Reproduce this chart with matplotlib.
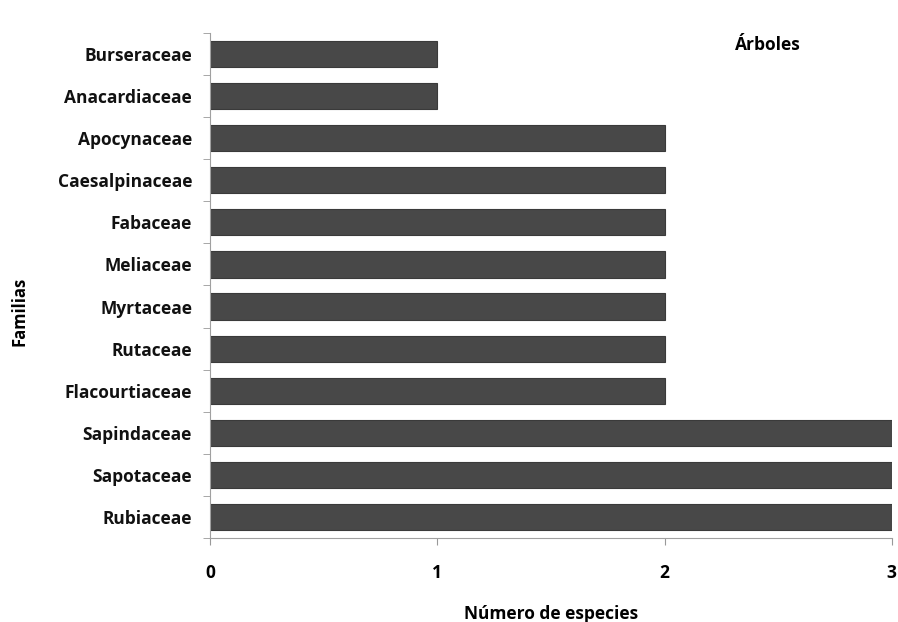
import matplotlib.pyplot as plt
import numpy as np

familias = ["Rubiaceae", "Sapotaceae", "Sapindaceae", "Flacourtiaceae", "Rutaceae",
            "Myrtaceae", "Meliaceae", "Fabaceae", "Caesalpinaceae", "Apocynaceae",
            "Anacardiaceae", "Burseraceae"]
especies = [3, 3, 3, 2, 2, 2, 2, 2, 2, 2, 1, 1]
x_ticks = [0, 1, 2, 3]

plt.rcParams["font.family"] = ["Open Sans", "DejaVu Sans"]
plt.rcParams["font.weight"] = "bold"

fig = plt.figure(figsize=(8.98, 6.22), dpi=100)
ax = fig.add_axes([0.234, 0.135, 0.759, 0.812])

y = np.arange(len(familias))
ax.barh(y, especies, height=0.62, color="#484848", edgecolor="#3a3a3a", linewidth=0.8)

ax.set_xlim(0, 3)
ax.set_ylim(-0.5, len(familias) - 0.5)
ax.set_xticks(x_ticks)
ax.set_xticklabels([str(v) for v in x_ticks], fontsize=12.5, fontweight="bold")
ax.set_yticks(y)
ax.set_yticklabels(familias, fontsize=12.5, fontweight="bold", color="#111111")
ax.set_yticks(np.arange(-0.5, len(familias), 1.0), minor=True)
ax.tick_params(axis="y", which="major", length=0, pad=13)
ax.tick_params(axis="y", which="minor", length=5, color="#999999", direction="out")
ax.tick_params(axis="x", length=5, color="#999999", pad=14)

for side in ["top", "right"]:
    ax.spines[side].set_visible(False)
for side in ["left", "bottom"]:
    ax.spines[side].set_color("#a0a0a0")

ax.set_xlabel("Número de especies", fontsize=12.5, fontweight="bold", labelpad=16)
fig.text(0.022, 0.5, "Familias", rotation=90, va="center", ha="center",
         fontsize=12, fontweight="bold")
ax.text(2.31, 11.22, "Árboles", fontsize=12.5, fontweight="bold", va="center")

fig.savefig("out.png", dpi=100)
